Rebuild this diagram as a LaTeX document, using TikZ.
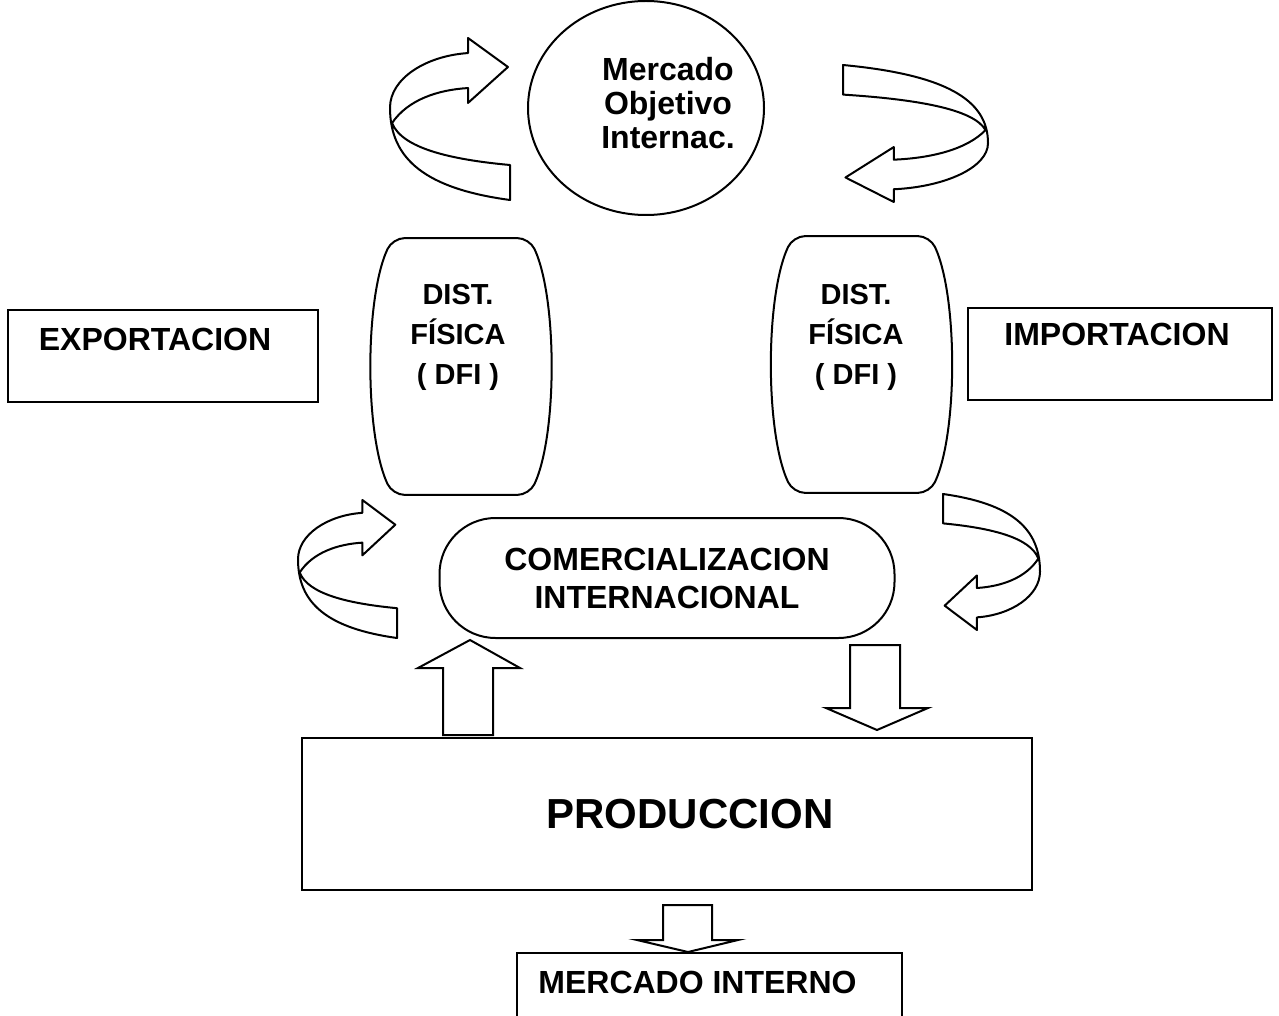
\documentclass[tikz,border=0pt]{standalone}
\usepackage{fontspec}
\setmainfont{Liberation Sans}
\usetikzlibrary{shapes.geometric}

\tikzset{
  linea/.style={black, line width=1pt},
  caja/.style={draw, linea, inner sep=0pt, font=\bfseries\fontsize{16}{19}\selectfont},
  barril/.style={inner sep=0pt, minimum width=68pt, minimum height=128pt},
  textodfi/.style={align=center, inner sep=0pt, font=\bfseries\fontsize{14.5}{20}\selectfont},
  pics/cinta/.style={code={
    \draw[linea, fill=white, line join=round]
      (0.983,0.179) -- (0.65,0) -- (0.65,0.093)
      .. controls (0.3,0.11) and (0,0.25) .. (0,0.43)
      .. controls (0,0.75) and (0.3,0.93) .. (1,1)
      -- (1,0.784)
      .. controls (0.5,0.75) and (0.1,0.68) .. (0.017,0.525)
      .. controls (0.15,0.38) and (0.4,0.32) .. (0.65,0.309)
      -- (0.65,0.401) -- cycle;
  }}
}

\begin{document}
\begin{tikzpicture}[x=0.5pt,y=-0.5pt]
\useasboundingbox (0,0) rectangle (1279,1016);

\node[caja, ellipse, minimum width=118pt, minimum height=107pt] (mercado) at (646,108) {};
\node[align=center, inner sep=0pt, font=\bfseries\fontsize{16}{17}\selectfont] (tmercado) at (668,103) {Mercado\\Objetivo\\Internac.};

% distribucion fisica
\node[barril] (dfiE) at (461,366.5) {};
\node[barril] (dfiI) at (861.5,364.5) {};
\foreach \b in {dfiE,dfiI}
  \draw[linea, rounded corners=6pt] (\b.north east)
    .. controls +(28,60) and +(28,-60) .. (\b.south east) -- (\b.south west)
    .. controls +(-28,-60) and +(-28,60) .. (\b.north west) -- cycle;
\node[textodfi] (tdfiE) at (458,337) {DIST.\\FÍSICA\\( DFI )};
\node[textodfi] (tdfiI) at (856,337) {DIST.\\FÍSICA\\( DFI )};

\node[caja, minimum width=155pt, text height=20pt, text depth=26pt, anchor=base] (export) at (163,350) {EXPORTACION\hspace*{8pt}};
\node[caja, minimum width=152pt, text height=18.5pt, text depth=27.5pt, anchor=base] (import) at (1120,345) {IMPORTACION\hspace*{3pt}};

\node[caja, minimum width=227.5pt, minimum height=60pt, rounded corners=28pt, align=center,
  font=\bfseries\fontsize{16}{19}\selectfont] (comercial) at (667,578) {COMERCIALIZACION\\INTERNACIONAL\hspace*{0pt}};

\node[caja, minimum width=365pt, minimum height=76pt, font=\bfseries\fontsize{21}{25}\selectfont] (prod) at (667,814) {\hspace*{23pt}PRODUCCION};

\node[caja, minimum width=192.5pt, text height=20pt, text depth=30pt, anchor=base] (interno) at (709.5,993) {MERCADO INTERNO\hspace*{12pt}};

% flechas curvas
\pic[xscale=120, yscale=162] at (390,38) {cinta};
\pic[xscale=-145, yscale=-137] at (988,202) {cinta};
\pic[xscale=99, yscale=138] at (298,500) {cinta};
\pic[xscale=-97, yscale=-136] at (1040,630) {cinta};

% flechas de bloque
\draw[linea, fill=white] (443,735) -- (443,668) -- (418,668) -- (470,640) -- (520,668) -- (493,668) -- (493,735) -- cycle;
\draw[linea, fill=white] (850,645) -- (900,645) -- (900,708) -- (928,708) -- (877,730) -- (826,708) -- (850,708) -- cycle;
\draw[linea, fill=white] (663,905) -- (712,905) -- (712,940) -- (738,940) -- (688,952) -- (637,940) -- (663,940) -- cycle;
\end{tikzpicture}
\end{document}
